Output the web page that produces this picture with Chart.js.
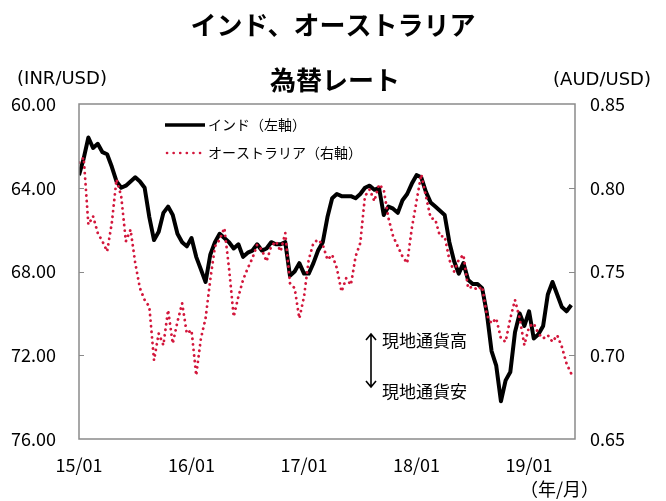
<!DOCTYPE html>
<html>
<head>
<meta charset="utf-8">
<script src="https://cdn.jsdelivr.net/npm/chart.js@4"></script>
<style>
  body { margin: 0; background: #fff; }
  #chart { display: block; }
</style>
</head>
<body>
<canvas id="chart" width="666" height="501"></canvas>
<script>
// semi-monthly readings, Jan 2015 - May 2019
const startYear = 2015;
const dates = [];
for (let i = 0; i < 106; i++) {
  const y = startYear + Math.floor(i / 24);
  const m = Math.floor(i / 2) % 12 + 1;
  dates.push(y + '/' + String(m).padStart(2, '0') + (i % 2 ? '/16' : '/01'));
}

const inr = [
  63.4, 62.6, 61.6, 62.1, 61.9, 62.3, 62.4, 63.0, 63.7, 64.0, 63.9, 63.7,
  63.5, 63.7, 64.0, 65.4, 66.5, 66.1, 65.2, 64.9, 65.3, 66.2, 66.6, 66.8,
  66.4, 67.3, 67.9, 68.5, 67.2, 66.6, 66.2, 66.4, 66.6, 66.9, 66.7, 67.3,
  67.1, 67.0, 66.7, 67.0, 66.9, 66.6, 66.7, 66.7, 66.6, 68.2, 68.0, 67.6,
  68.1, 68.1, 67.6, 67.0, 66.6, 65.4, 64.5, 64.3, 64.4, 64.4, 64.4, 64.5,
  64.3, 64.0, 63.9, 64.1, 64.0, 65.3, 64.9, 65.0, 65.2, 64.6, 64.3, 63.8,
  63.4, 63.5, 64.2, 64.7, 64.9, 65.1, 65.3, 66.6, 67.5, 68.1, 67.6, 68.4,
  68.6, 68.6, 68.8, 70.0, 71.8, 72.5, 74.2, 73.2, 72.8, 70.9, 70.0, 70.6,
  69.9, 71.2, 71.0, 70.6, 69.1, 68.5, 69.1, 69.7, 69.9, 69.6
];

const aud = [
  0.815, 0.818, 0.778, 0.783, 0.773, 0.768, 0.762, 0.779, 0.805, 0.795, 0.768, 0.775,
  0.755, 0.740, 0.733, 0.729, 0.697, 0.713, 0.706, 0.727, 0.707, 0.720, 0.731, 0.713,
  0.715, 0.688, 0.710, 0.722, 0.745, 0.765, 0.769, 0.776, 0.752, 0.723, 0.735, 0.745,
  0.752, 0.758, 0.766, 0.763, 0.756, 0.765, 0.768, 0.762, 0.773, 0.743, 0.740, 0.722,
  0.735, 0.757, 0.767, 0.769, 0.766, 0.757, 0.760, 0.752, 0.738, 0.746, 0.742, 0.759,
  0.767, 0.795, 0.799, 0.792, 0.802, 0.799, 0.782, 0.771, 0.765, 0.759, 0.755, 0.776,
  0.792, 0.808, 0.795, 0.782, 0.781, 0.771, 0.771, 0.757, 0.750, 0.757, 0.760, 0.740,
  0.741, 0.739, 0.741, 0.724, 0.719, 0.722, 0.710, 0.708, 0.722, 0.733, 0.722, 0.706,
  0.717, 0.719, 0.713, 0.710, 0.712, 0.708, 0.712, 0.705, 0.695, 0.689
];

const xTickLabels = ['15/01', '16/01', '17/01', '18/01', '19/01'];
const inrTicks = [60, 64, 68, 72, 76];
const audTicks = [0.65, 0.70, 0.75, 0.80, 0.85];

const seriesNames = ['インド（左軸）', 'オーストラリア（右軸）'];
const RED = '#d3173c';
const JP = '"Noto Sans CJK JP", sans-serif';

// months since 2015/01 for each reading
const toMonths = d => {
  const [y, m, day] = d.split('/').map(Number);
  return (y - startYear) * 12 + (m - 1) + (day - 1) / 30;
};
const inrPts = dates.map((d, i) => ({ x: toMonths(d), y: inr[i] }));
const audPts = dates.map((d, i) => ({ x: toMonths(d), y: aud[i] }));

// titles, legend, arrow note, frame
const decor = {
  id: 'decor',
  afterDraw(chart) {
    const ctx = chart.ctx;
    const a = chart.chartArea;
    ctx.save();

    // frame
    ctx.strokeStyle = '#8a8a8a';
    ctx.lineWidth = 1.5;
    ctx.strokeRect(a.left, a.top, a.right - a.left, a.bottom - a.top);

    // inward ticks
    ctx.lineWidth = 1;
    const yl = chart.scales.yInr, yr = chart.scales.yAud;
    inrTicks.slice(1, -1).forEach(v => {
      const p = Math.round(yl.getPixelForValue(v)) + 0.5;
      ctx.beginPath(); ctx.moveTo(a.left, p); ctx.lineTo(a.left + 5, p); ctx.stroke();
    });
    audTicks.slice(1, -1).forEach(v => {
      const p = Math.round(yr.getPixelForValue(v)) + 0.5;
      ctx.beginPath(); ctx.moveTo(a.right, p); ctx.lineTo(a.right - 6, p); ctx.stroke();
    });

    ctx.fillStyle = '#000';
    ctx.textBaseline = 'middle';

    // title
    ctx.textAlign = 'center';
    ctx.font = 'bold 26px ' + JP;
    ctx.fillText('インド、オーストラリア', 333, 25);
    ctx.fillText('為替レート', 335, 80);

    // axis titles
    ctx.font = '18px "DejaVu Sans", sans-serif';
    ctx.fillText('(INR/USD)', 62, 79);
    ctx.fillText('(AUD/USD)', 602, 80);
    ctx.font = '18px ' + JP;
    ctx.textAlign = 'left';
    ctx.fillText('（年/月）', 520, 489);

    // legend
    ctx.font = '14px ' + JP;
    ctx.strokeStyle = '#000';
    ctx.lineWidth = 3.5;
    ctx.beginPath(); ctx.moveTo(165, 125); ctx.lineTo(205, 125); ctx.stroke();
    ctx.fillText(seriesNames[0], 208, 125);
    ctx.strokeStyle = RED;
    ctx.lineWidth = 2.6;
    ctx.lineCap = 'round';
    ctx.setLineDash([0.1, 6.5]);
    ctx.beginPath(); ctx.moveTo(167, 153); ctx.lineTo(204, 153); ctx.stroke();
    ctx.setLineDash([]);
    ctx.fillText(seriesNames[1], 208, 153);

    // arrow note
    ctx.strokeStyle = '#000';
    ctx.lineWidth = 1.6;
    ctx.lineCap = 'butt';
    ctx.beginPath();
    ctx.moveTo(371, 334); ctx.lineTo(371, 387);
    ctx.moveTo(366, 340); ctx.lineTo(371, 334); ctx.lineTo(376, 340);
    ctx.moveTo(366, 381); ctx.lineTo(371, 387); ctx.lineTo(376, 381);
    ctx.stroke();
    ctx.font = '17px ' + JP;
    ctx.fillText('現地通貨高', 382, 341);
    ctx.fillText('現地通貨安', 382, 392);

    ctx.restore();
  }
};

new Chart(document.getElementById('chart'), {
  type: 'line',
  data: {
    datasets: [
      {
        label: seriesNames[0],
        data: inrPts,
        yAxisID: 'yInr',
        borderColor: '#000',
        borderWidth: 4,
        borderJoinStyle: 'round',
        pointRadius: 0,
        tension: 0,
        order: 2
      },
      {
        label: seriesNames[1],
        data: audPts,
        yAxisID: 'yAud',
        borderColor: RED,
        borderWidth: 2.8,
        borderDash: [0.1, 5.5],
        borderCapStyle: 'round',
        pointRadius: 0,
        tension: 0,
        order: 1
      }
    ]
  },
  options: {
    responsive: false,
    animation: false,
    devicePixelRatio: 1,
    layout: { padding: { top: 104, left: 0, right: 0, bottom: 0 } },
    plugins: {
      legend: { display: false },
      title: { display: false },
      tooltip: { enabled: false }
    },
    scales: {
      x: {
        type: 'linear',
        min: 0,
        max: 52.9,
        grid: { display: false, drawTicks: false },
        border: { display: false },
        afterBuildTicks: s => { s.ticks = xTickLabels.map((_, i) => ({ value: i * 12 })); },
        afterFit: s => { s.height = 62; },
        ticks: {
          padding: 15,
          maxRotation: 0,
          color: '#000',
          font: { size: 18, family: JP },
          callback: v => xTickLabels[v / 12]
        }
      },
      yInr: {
        position: 'left',
        reverse: true,
        min: 60,
        max: 76,
        grid: { display: false, drawTicks: false },
        border: { display: false },
        afterBuildTicks: s => { s.ticks = inrTicks.map(v => ({ value: v })); },
        afterFit: s => { s.width = 79; },
        ticks: {
          padding: 23,
          color: '#000',
          font: { size: 18, family: JP },
          callback: v => v.toFixed(2)
        }
      },
      yAud: {
        position: 'right',
        min: 0.65,
        max: 0.85,
        grid: { display: false, drawTicks: false },
        border: { display: false },
        afterBuildTicks: s => { s.ticks = audTicks.map(v => ({ value: v })); },
        afterFit: s => { s.width = 91; },
        ticks: {
          padding: 15,
          color: '#000',
          font: { size: 18, family: JP },
          callback: v => v.toFixed(2)
        }
      }
    }
  },
  plugins: [decor]
});
</script>
</body>
</html>
